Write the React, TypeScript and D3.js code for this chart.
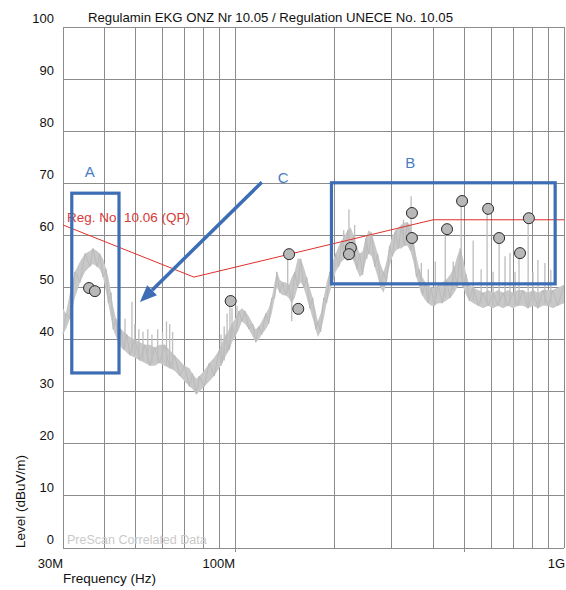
import React from "react";
import * as d3 from "d3";

// Axis ticks
const yTicks = [0, 10, 20, 30, 40, 50, 60, 70, 80, 90, 100];
const xGridMHz = [30, 40, 50, 60, 70, 80, 90, 100, 200, 300, 400, 500, 600, 700, 800, 900, 1000];
const xTickLabels: [number, string][] = [
  [30, "30M"],
  [100, "100M"],
  [1000, "1G"],
];

// Limit line (Reg. No. 10.06, QP): [MHz, dBuV/m]
const limitLine: [number, number][] = [
  [30, 62],
  [75, 52],
  [400, 63],
  [1000, 63],
];

// Prescan spectrum envelope: [MHz, lower dBuV/m, upper dBuV/m]
const spectrum: [number, number, number][] = [
  [30.0, 41, 46], [30.6, 42, 45], [31.5, 44, 49], [32.6, 48, 53], [33.8, 51, 55],
  [35.0, 53, 56.5], [36.2, 54, 57], [37.0, 54.5, 57.5], [38.1, 54, 57], [38.8, 53.5, 56.5],
  [39.7, 52, 55.5], [40.6, 49, 53.5], [41.2, 47, 52], [42.0, 44, 49], [42.6, 42, 46.5],
  [43.5, 40.5, 44], [44.2, 39.5, 43], [45.0, 38.5, 42], [46.0, 38, 41.5], [46.9, 37.5, 41],
  [47.9, 37, 40.5], [49.6, 36.5, 40], [51.4, 36, 39.5], [53.2, 35.5, 39], [55.1, 35, 39],
  [57.0, 35, 38.5], [59.0, 35.5, 39], [61.1, 35, 39], [63.3, 34.5, 38], [65.5, 34, 37],
  [67.9, 33, 36], [70.2, 32, 35], [72.7, 31, 34.5], [74.2, 30.5, 33.5], [76.3, 29.5, 32.5],
  [77.9, 30, 33], [80.6, 31, 34], [83.5, 32, 35.5], [86.4, 33, 36.5], [89.5, 34.5, 38],
  [91.4, 35.5, 39.5], [94.0, 37, 41], [95.9, 38, 42], [97.9, 39.5, 43], [100.0, 40.5, 44],
  [102.8, 42, 45.5], [105.0, 43.5, 46], [107.2, 43, 45.5], [110.2, 42, 44.5], [113.3, 40.5, 43],
  [115.6, 39.5, 42], [118.1, 40, 42.5], [120.6, 41, 43.5], [124.0, 42, 45], [126.6, 43, 46],
  [129.3, 45, 48], [132.0, 48, 51], [134.0, 50, 53], [136.8, 49, 51.5], [139.7, 48.5, 51],
  [142.6, 48.5, 51], [145.6, 48, 50.5], [148.7, 47, 52], [151.8, 48, 53], [155.0, 50, 55.5],
  [158.4, 51, 55.5], [161.7, 50, 54], [165.2, 48, 52], [168.7, 46, 50], [172.3, 44, 48],
  [175.9, 42, 45.5], [178.4, 40.5, 43.5], [182.1, 41.5, 45], [186.0, 44, 48], [189.9, 47, 51],
  [194.0, 49, 53], [198.1, 51, 55], [202.3, 53, 56.5], [206.6, 54, 58], [211.0, 55, 59],
  [215.5, 55.5, 60], [220.0, 55, 61], [224.8, 56, 61.5], [229.5, 55, 60], [234.4, 53.5, 58],
  [239.4, 52, 56.5], [244.4, 52.5, 57], [249.6, 55, 59.5], [254.8, 56.5, 61], [260.2, 56, 60.5],
  [265.7, 54, 58.5], [271.4, 52, 56.5], [276.9, 50, 54.5], [282.8, 49, 53], [288.8, 51, 55],
  [294.8, 54, 58], [301.1, 56, 60], [307.5, 57, 61], [313.9, 57.5, 61.5], [320.5, 57.5, 62],
  [327.3, 58, 62.5], [334.2, 58, 62.5], [341.3, 57, 62], [348.4, 55, 59], [355.8, 52, 56],
  [363.3, 50, 53.5], [371.0, 48.5, 52], [378.8, 47.5, 51], [386.8, 47, 50.5], [395.0, 46.5, 50],
  [403.4, 46.5, 50], [414.8, 47, 50.5], [426.5, 47, 51], [438.7, 47.5, 51.5], [451.0, 48, 52.5],
  [463.8, 49, 54], [473.5, 50, 56], [483.6, 51, 57.5], [493.9, 50, 55.5], [504.3, 48.5, 52.5],
  [515.0, 47.5, 50.5], [529.6, 47, 50], [548.3, 46.5, 49.5], [567.8, 46, 49], [587.9, 46.5, 49.5],
  [608.8, 46, 49], [630.3, 46.5, 49.5], [652.6, 46, 49], [675.7, 46.5, 49.5], [699.7, 46, 49],
  [724.6, 46.5, 49.5], [750.3, 46.5, 49.5], [777.0, 46, 49], [804.6, 46.5, 49.5], [833.1, 46, 49],
  [862.6, 46.5, 49.5], [893.2, 46.5, 49.5], [924.8, 46, 49.5], [957.5, 46.5, 50], [1000, 47, 50.5],
];

// Narrow emissions rising out of the prescan: [MHz, from dB, to dB]
const spikes: [number, number, number][] = [
  [44.2, 40, 46], [46.3, 38.5, 44], [48.6, 37.5, 47.2], [49.6, 37, 43], [51.0, 36.5, 42],
  [52.5, 36, 41.5], [54.3, 35.5, 42], [55.9, 35.5, 41], [58.2, 35.5, 42], [60.2, 35.5, 41.5],
  [61.9, 35, 43.5], [63.3, 35, 43], [64.6, 34.5, 41.5],
  [90.7, 35, 41], [92.7, 36, 42.5], [94.6, 37.5, 45], [96.5, 38.5, 47], [97.9, 40, 46],
  [101.4, 41.5, 46.5],
  [144.6, 49, 56.4], [148.7, 48, 43.5],
  [214.0, 56, 61], [222.0, 56, 65], [231.0, 55, 62], [251.3, 55.5, 60],
  [325.0, 58.5, 63], [343.0, 58, 67.5], [368.4, 49, 54.7], [386.8, 47.5, 53.5], [406.3, 47, 55],
  [435.6, 48, 61], [460.5, 49.5, 55], [487.0, 52, 66.5], [529.6, 47.5, 59], [559.9, 47, 53.5],
  [583.8, 47, 65], [608.8, 46.5, 53], [635.0, 47, 59.5], [661.8, 46.5, 56], [685.3, 47, 56.6],
  [710.0, 46.5, 53], [730.0, 47, 56.6], [778.0, 46.5, 63.3], [804.6, 47, 53], [833.1, 46.5, 55.3],
  [874.8, 47, 54.7], [912.0, 47, 53.4],
];

// Final quasi-peak measurement points: [MHz, dBuV/m]
const measured: [number, number][] = [
  [36.0, 49.9], [37.5, 49.3], [97, 47.4], [146, 56.4], [155.7, 45.9],
  [225, 57.6], [222, 56.4], [345, 64.3], [345, 59.5], [441, 61.2],
  [490, 66.6], [588, 65.1], [635, 59.5], [735, 56.6], [782, 63.3],
];

const FONT = "'Liberation Sans', Arial, Helvetica, sans-serif";
const BLUE = "#3c6db5";

export default function App() {
  const W = 566;
  const H = 590;
  const x = d3.scaleLog().domain([30, 1000]).range([63, 564]);
  const y = d3.scaleLinear().domain([0, 100]).range([548, 27]);

  const band = d3
    .area<[number, number, number]>()
    .x((d) => x(d[0]))
    .y0((d) => y(d[1]))
    .y1((d) => y(d[2]));

  // zig-zag through the envelope so the band reads as a noisy trace
  const zigPts: [number, number][] = spectrum.map((d, i) => [x(d[0]), y(i % 2 === 0 ? d[1] : d[2])]);
  const zig = d3.line()(zigPts) || "";

  const limit = d3
    .line<[number, number]>()
    .x((d) => x(d[0]))
    .y((d) => y(d[1]))(limitLine) || "";

  // annotation geometry in data units
  const boxA = { f0: 31.9, f1: 44.4, v0: 33.6, v1: 68.1 };
  const boxB = { f0: 196.4, f1: 940, v0: 50.7, v1: 70.1 };
  const arrowFrom: [number, number] = [120.6, 70.2];
  const arrowTo: [number, number] = [51.4, 47.2];

  const ax0 = x(arrowFrom[0]);
  const ay0 = y(arrowFrom[1]);
  const ax1 = x(arrowTo[0]);
  const ay1 = y(arrowTo[1]);
  const ang = Math.atan2(ay1 - ay0, ax1 - ax0);
  const headLen = 17;
  const headHalf = 7;
  const bx = ax1 - headLen * Math.cos(ang);
  const by = ay1 - headLen * Math.sin(ang);
  const px = -Math.sin(ang);
  const py = Math.cos(ang);
  const head = `M${ax1},${ay1} L${bx + headHalf * px},${by + headHalf * py} L${bx - headHalf * px},${by - headHalf * py} Z`;

  const x0 = x(30);
  const x1 = x(1000);
  const yTop = y(100);
  const yBot = y(0);

  return (
    <svg
      width={W}
      height={H}
      viewBox={`0 0 ${W} ${H}`}
      style={{ position: "absolute", left: 0, top: 0, background: "#fff" }}
      fontFamily={FONT}
    >
      <rect width={W} height={H} fill="#fff" />

      {/* grid */}
      <g stroke="#8c8c8c" strokeWidth={1} shapeRendering="crispEdges">
        {yTicks.map((t) => (
          <line key={`h${t}`} x1={x0} x2={x1} y1={y(t)} y2={y(t)} />
        ))}
        {xGridMHz.map((f) => (
          <line
            key={`v${f}`}
            x1={x(f)}
            x2={x(f)}
            y1={yTop}
            y2={f === 100 || f === 500 ? yBot + 4 : yBot}
          />
        ))}
      </g>

      {/* watermark */}
      <text x={x0 + 4} y={yBot - 4} fontSize={12.5} fill="#c9c9c9">
        PreScan Correlated Data
      </text>

      {/* spectrum */}
      <path d={band(spectrum) || ""} fill="#c8c8c8" stroke="none" />
      <path d={zig} fill="none" stroke="#bababa" strokeWidth={1} />
      <g stroke="#bdbdbd" strokeWidth={1.3}>
        {spikes.map((s, i) => (
          <line key={i} x1={x(s[0])} x2={x(s[0])} y1={y(s[1])} y2={y(s[2])} />
        ))}
      </g>

      {/* limit */}
      <path d={limit} fill="none" stroke="#e0302c" strokeWidth={1} />
      <text x={67} y={222} fontSize={13.5} fill="#d83a36" textLength={123} lengthAdjust="spacingAndGlyphs">
        Reg. No. 10.06 (QP)
      </text>

      {/* measurement points */}
      <g fill="#b8b8b8" stroke="#2a2a2a" strokeWidth={1}>
        {measured.map((m, i) => (
          <circle key={i} cx={x(m[0])} cy={y(m[1])} r={5.5} />
        ))}
      </g>

      {/* annotations */}
      <g fill="none" stroke={BLUE} strokeWidth={3.2}>
        <rect x={x(boxA.f0)} y={y(boxA.v1)} width={x(boxA.f1) - x(boxA.f0)} height={y(boxA.v0) - y(boxA.v1)} />
        <rect x={x(boxB.f0)} y={y(boxB.v1)} width={x(boxB.f1) - x(boxB.f0)} height={y(boxB.v0) - y(boxB.v1)} />
        <line x1={ax0} y1={ay0} x2={bx} y2={by} strokeWidth={3.5} />
      </g>
      <path d={head} fill={BLUE} />
      <g fill="#4a7cc4" fontSize={15} textAnchor="middle" dominantBaseline="central">
        <text x={x(36.2)} y={y(72.2)}>A</text>
        <text x={x(341)} y={y(73.9)}>B</text>
        <text x={x(140)} y={y(71.2)}>C</text>
      </g>

      {/* title */}
      <text x={88} y={22} fontSize={13.2} fill="#111">
        Regulamin EKG ONZ Nr 10.05 / Regulation UNECE No. 10.05
      </text>

      {/* y tick labels */}
      <g fontSize={13} fill="#111" textAnchor="end">
        {yTicks.map((t) => (
          <text key={t} x={54} y={y(t) - 4}>
            {t}
          </text>
        ))}
      </g>

      {/* x tick labels */}
      <g fontSize={13} fill="#111" textAnchor="end">
        {xTickLabels.map(([f, s]) => (
          <text key={s} x={x(f) + (f === 1000 ? 1 : 0)} y={568}>
            {s}
          </text>
        ))}
      </g>

      <text x={63} y={583} fontSize={13.5} fill="#111">
        Frequency (Hz)
      </text>
      <text transform={`translate(25,548) rotate(-90)`} fontSize={13.5} fill="#111">
        Level (dBuV/m)
      </text>
    </svg>
  );
}
